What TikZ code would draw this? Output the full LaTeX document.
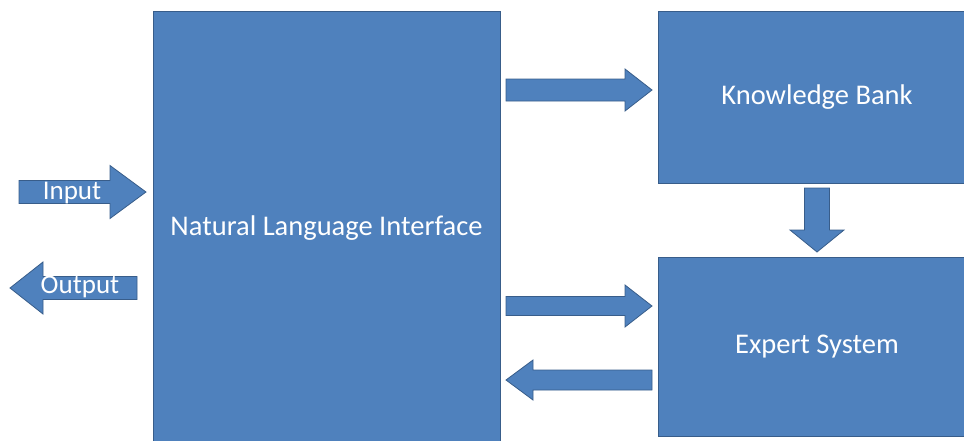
\documentclass[tikz,border=0pt]{standalone}
\usepackage{fontspec}
\setmainfont{Carlito}
\usetikzlibrary{calc}

\definecolor{boxblue}{HTML}{4F81BD}
\definecolor{edgeblue}{HTML}{385D8A}

% block arrow: from, to, shaft half width, head half width, head length
\newcommand{\blockarrow}[5]{%
  \coordinate (h) at ($(#2)!#5!(#1)$);
  \draw[blk] ($(#1)!#3!90:(#2)$) -- ($(h)!#3!-90:(#1)$) -- ($(h)!#4!-90:(#1)$)
    -- (#2) -- ($(h)!#4!90:(#1)$) -- ($(h)!#3!90:(#1)$) -- ($(#1)!#3!-90:(#2)$) -- cycle;}

\begin{document}
\begin{tikzpicture}[x=1pt, y=-1pt,
  box/.style={draw=edgeblue, fill=boxblue, line width=1pt, text=white,
    font=\fontsize{28.5}{31}\selectfont, inner sep=0pt},
  blk/.style={draw=edgeblue, fill=boxblue, line width=0.8pt, line join=miter},
  lbl/.style={text=white, font=\fontsize{27}{30}\selectfont, inner sep=0pt}]

\useasboundingbox (0,0) rectangle (964,440);

\node[box, minimum width=347pt, minimum height=435pt] (nli) at (326.5,228.5) {Natural Language Interface};
\node[box, minimum width=318pt, minimum height=172pt] (kb) at (817,97) {Knowledge Bank};
\node[box, minimum width=318pt, minimum height=179pt] (es) at (817,346.5) {Expert System};

% input and output
\coordinate (in0) at (19,192);
\coordinate (in1) at (146,192);
\coordinate (out0) at (137,288);
\coordinate (out1) at (10,288);
\blockarrow{in0}{in1}{11.5pt}{26.5pt}{36pt}
\blockarrow{out0}{out1}{11.5pt}{26pt}{33pt}
\node[lbl] (inlbl) at (72,193) {Input};
\node[lbl] (outlbl) at (80,287) {Output};

% between the boxes
\coordinate (k0) at (506,90);
\coordinate (k1) at (652,90);
\coordinate (d0) at (817,188);
\coordinate (d1) at (817,252);
\coordinate (e0) at (506,306);
\coordinate (e1) at (652,306);
\coordinate (r0) at (652,380);
\coordinate (r1) at (506,380);
\blockarrow{k0}{k1}{11pt}{21pt}{27pt}
\blockarrow{d0}{d1}{12.5pt}{27pt}{22pt}
\blockarrow{e0}{e1}{9.5pt}{21pt}{27pt}
\blockarrow{r0}{r1}{10pt}{20pt}{27pt}

\end{tikzpicture}
\end{document}
